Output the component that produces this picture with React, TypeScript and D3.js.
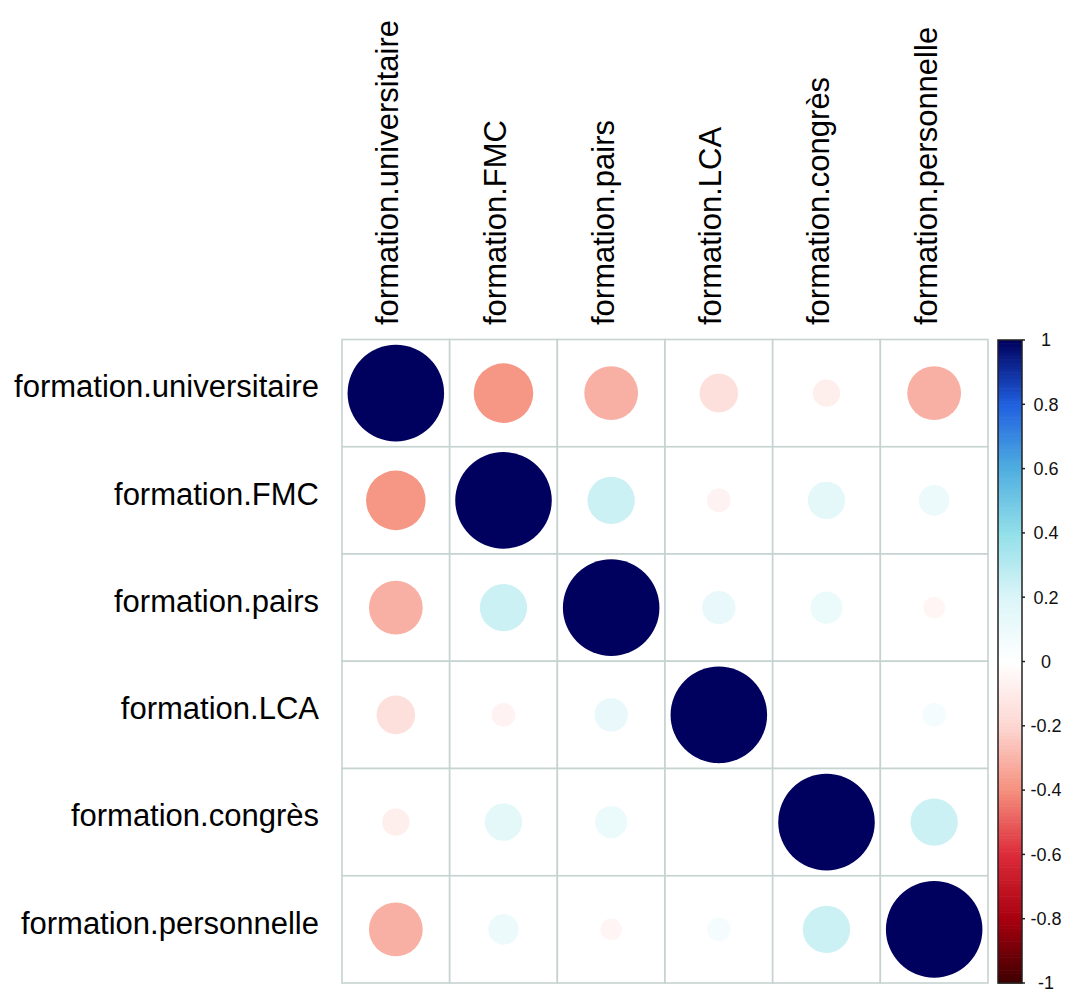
import React from "react";
import * as d3 from "d3";

// variable names, same order for rows and columns
const variables = [
  "formation.universitaire",
  "formation.FMC",
  "formation.pairs",
  "formation.LCA",
  "formation.congrès",
  "formation.personnelle",
];

// correlation matrix
const corrRows = [
  [1, -0.38, -0.31, -0.16, -0.08, -0.31],
  [-0.38, 1, 0.24, -0.06, 0.15, 0.1],
  [-0.31, 0.24, 1, 0.12, 0.11, -0.05],
  [-0.16, -0.06, 0.12, 1, 0.0, 0.06],
  [-0.08, 0.15, 0.11, 0.0, 1, 0.24],
  [-0.31, 0.1, -0.05, 0.06, 0.24, 1],
];

const legendTicks = [-1, -0.8, -0.6, -0.4, -0.2, 0, 0.2, 0.4, 0.6, 0.8, 1];

const paletteStops = [
  "#3D0000", "#A8000F", "#DC2B3A", "#F5907E", "#FDD7D2", "#FFFFFF",
  "#DBF5F8", "#92DFE9", "#4FAEE0", "#2060E0", "#00005E",
];

const font = "'Liberation Sans', Arial, sans-serif";

export default function App() {
  const width = 1066;
  const height = 989;
  const left = 342;
  const right = 988;
  const top = 339.5;
  const bottom = 983;

  const x = d3.scaleBand<number>().domain(d3.range(variables.length)).range([left, right]);
  const y = d3.scaleBand<number>().domain(d3.range(variables.length)).range([top, bottom]);
  const cell = Math.min(x.bandwidth(), y.bandwidth());

  const color = d3
    .scaleLinear<string>()
    .domain(legendTicks)
    .range(paletteStops)
    .interpolate(d3.interpolateRgb);

  // color bar
  const barX = 998;
  const barW = 24;
  const barY = d3.scaleLinear().domain([-1, 1]).range([983, 340]);
  const steps = d3.range(-1, 1, 0.01);

  return (
    <svg
      width={width}
      height={height}
      style={{ position: "absolute", left: 0, top: 0, background: "#fff" }}
      fontFamily={font}
    >
      {/* cells and grid */}
      {corrRows.map((row, i) =>
        row.map((v, j) => (
          <rect
            key={`g-${i}-${j}`}
            x={x(j)}
            y={y(i)}
            width={x.bandwidth()}
            height={y.bandwidth()}
            fill="#fff"
            stroke="#C5D3D1"
            strokeWidth={1.6}
          />
        ))
      )}
      {corrRows.map((row, i) =>
        row.map((v, j) => (
          <circle
            key={`c-${i}-${j}`}
            cx={(x(j) as number) + x.bandwidth() / 2}
            cy={(y(i) as number) + y.bandwidth() / 2}
            r={Math.sqrt(Math.abs(v)) * cell * 0.45}
            fill={color(v)}
          />
        ))
      )}

      {/* row labels */}
      {variables.map((name, i) => (
        <text
          key={`r-${name}`}
          x={319}
          y={(y(i) as number) + y.bandwidth() / 2}
          dy="0.14em"
          textAnchor="end"
          fontSize={31}
          fill="#000"
        >
          {name}
        </text>
      ))}

      {/* column labels */}
      {variables.map((name, j) => (
        <text
          key={`col-${name}`}
          transform={`translate(${(x(j) as number) + x.bandwidth() / 2},325) rotate(-90)`}
          dy="0.08em"
          textAnchor="start"
          fontSize={31}
          fill="#000"
        >
          {name}
        </text>
      ))}

      {/* color legend */}
      {steps.map((s) => (
        <rect
          key={`s-${s.toFixed(2)}`}
          x={barX}
          y={barY(s + 0.01)}
          width={barW}
          height={barY(s) - barY(s + 0.01) + 0.6}
          fill={color(s + 0.005)}
        />
      ))}
      <rect
        x={barX}
        y={barY(1)}
        width={barW}
        height={barY(-1) - barY(1)}
        fill="none"
        stroke="#222"
        strokeWidth={1.5}
      />
      {legendTicks.map((t) => (
        <g key={`t-${t}`}>
          <line
            x1={barX + barW}
            x2={barX + barW + 3}
            y1={barY(t)}
            y2={barY(t)}
            stroke="#222"
            strokeWidth={1.5}
          />
          <text
            x={1046}
            y={barY(t)}
            dy="0.35em"
            textAnchor="middle"
            fontSize={18}
            fill="#111"
          >
            {t}
          </text>
        </g>
      ))}
    </svg>
  );
}
